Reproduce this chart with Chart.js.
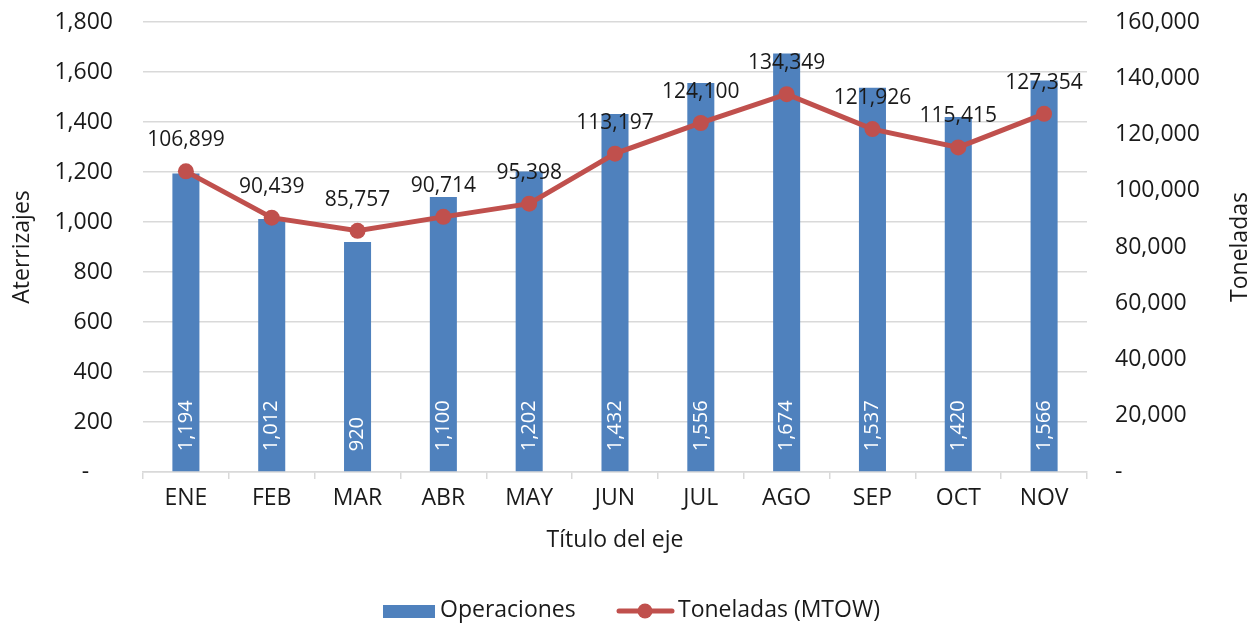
<!DOCTYPE html>
<html><head><meta charset="utf-8">
<script src="https://cdn.jsdelivr.net/npm/chart.js@4/dist/chart.umd.min.js"></script>
<style>html,body{margin:0;padding:0;background:#fff}#wrap{width:1258px;height:623px}</style>
</head><body><div id="wrap"><canvas id="c" width="1258" height="623"></canvas></div>
<script>
const categories = ['ENE','FEB','MAR','ABR','MAY','JUN','JUL','AGO','SEP','OCT','NOV'];
const operaciones = [1194,1012,920,1100,1202,1432,1556,1674,1537,1420,1566];
const toneladas = [106899,90439,85757,90714,95398,113197,124100,134349,121926,115415,127354];
const leftTicks = {min:0,max:1800,step:200};
const rightTicks = {min:0,max:160000,step:20000};

const FONT = "'Open Sans', sans-serif";
const BAR = '#4F81BD', LINE = '#C0504D', GRID = '#D9D9D9', TXT = '#1a1a1a';
const fmt = v => v.toLocaleString('en-US');

const labelsPlugin = {
  id:'labels',
  afterDatasetsDraw(chart){
    const ctx = chart.ctx;
    const bm = chart.getDatasetMeta(1), lm = chart.getDatasetMeta(0);
    ctx.save();
    ctx.fillStyle = '#fff';
    ctx.font = "20px " + FONT;
    bm.data.forEach((el,i)=>{
      ctx.save();
      ctx.translate(el.x, el.base - 20);
      ctx.rotate(-Math.PI/2);
      ctx.textAlign='left'; ctx.textBaseline='middle';
      ctx.fillText(fmt(operaciones[i]),0,0);
      ctx.restore();
    });
    ctx.fillStyle = TXT;
    ctx.font = "21px " + FONT;
    ctx.textAlign='center'; ctx.textBaseline='middle';
    lm.data.forEach((el,i)=>{
      ctx.fillText(fmt(toneladas[i]), el.x, el.y - 31);
    });
    ctx.restore();
  },
  afterDraw(chart){
    const ctx = chart.ctx, a = chart.chartArea;
    ctx.save();
    ctx.fillStyle = TXT;
    ctx.font = "23px " + FONT;
    ctx.textAlign='center'; ctx.textBaseline='middle';
    const cy = (a.top+a.bottom)/2;
    ctx.save(); ctx.translate(22,cy); ctx.rotate(-Math.PI/2); ctx.fillText('Aterrizajes',0,0); ctx.restore();
    ctx.save(); ctx.translate(1240,cy); ctx.rotate(-Math.PI/2); ctx.fillText('Toneladas',0,0); ctx.restore();
    ctx.fillText('Título del eje', (a.left+a.right)/2, 540);
    ctx.fillStyle = BAR; ctx.fillRect(383,605,52,13);
    ctx.fillStyle = TXT; ctx.textAlign='left';
    ctx.fillText('Operaciones', 440, 610);
    ctx.strokeStyle = LINE; ctx.lineWidth = 5; ctx.lineCap='round';
    ctx.beginPath(); ctx.moveTo(619,611); ctx.lineTo(672,611); ctx.stroke();
    ctx.fillStyle = LINE; ctx.beginPath(); ctx.arc(645,611,7.5,0,Math.PI*2); ctx.fill();
    ctx.fillStyle = TXT;
    ctx.fillText('Toneladas (MTOW)', 678, 610);
    ctx.restore();
  }
};

function fixV(w){ return s => { s.width = w; s.paddingTop = 0; s.paddingBottom = 0; }; }

new Chart(document.getElementById('c'), {
  type:'bar',
  data:{
    labels: categories,
    datasets:[
      {type:'line', label:'Toneladas (MTOW)', data: toneladas, yAxisID:'y1', borderColor:LINE, backgroundColor:LINE,
       borderWidth:5, pointRadius:8, pointBackgroundColor:LINE, pointBorderWidth:0, tension:0, order:0},
      {type:'bar', label:'Operaciones', data: operaciones, yAxisID:'y', backgroundColor:BAR,
       barPercentage:0.315, categoryPercentage:1, order:1}
    ]
  },
  options:{
    responsive:false, maintainAspectRatio:false, animation:false, devicePixelRatio:1,
    layout:{padding:{top:22,left:0,right:0,bottom:0}},
    plugins:{legend:{display:false}, tooltip:{enabled:false}},
    scales:{
      x:{
        grid:{drawOnChartArea:false, drawTicks:true, tickLength:7, color:GRID, lineWidth:1.5, offset:true},
        border:{display:true, color:GRID, width:1.5},
        ticks:{color:TXT, font:{family:FONT, size:23}, padding:6},
        afterFit(s){ s.height = 151; s.paddingLeft = 0; s.paddingRight = 0; }
      },
      y:{
        position:'left', min:leftTicks.min, max:leftTicks.max,
        grid:{color:GRID, lineWidth:1.5, drawTicks:false},
        border:{display:false},
        ticks:{stepSize:leftTicks.step, color:TXT, padding:30, font:{family:FONT, size:23},
          callback:v=> v===0 ? '-    ' : fmt(v)},
        afterFit: fixV(143)
      },
      y1:{
        position:'right', min:rightTicks.min, max:rightTicks.max,
        grid:{drawOnChartArea:false, drawTicks:false},
        border:{display:false},
        ticks:{stepSize:rightTicks.step, color:TXT, padding:28, font:{family:FONT, size:23},
          callback:v=> v===0 ? '-' : fmt(v)},
        afterFit: fixV(171)
      }
    }
  },
  plugins:[labelsPlugin]
});
</script></body></html>
